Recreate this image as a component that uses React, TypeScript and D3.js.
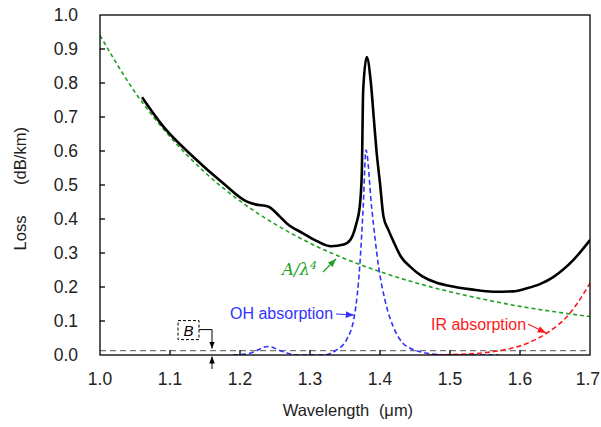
import React from "react";
import * as d3 from "d3";

const xTicks = [1.0, 1.1, 1.2, 1.3, 1.4, 1.5, 1.6, 1.7];
const yTicks = [0.0, 0.1, 0.2, 0.3, 0.4, 0.5, 0.6, 0.7, 0.8, 0.9, 1.0];

const totalWl = [1.06, 1.09, 1.133, 1.176, 1.21, 1.222, 1.24, 1.257, 1.267, 1.29, 1.31, 1.33, 1.348, 1.358, 1.366, 1.371, 1.374, 1.376, 1.381, 1.387, 1.391, 1.395, 1.4, 1.405, 1.412, 1.419, 1.43, 1.443, 1.46, 1.48, 1.5, 1.53, 1.562, 1.59, 1.61, 1.63, 1.648, 1.676, 1.7];
const totalLoss = [0.758, 0.673, 0.583, 0.505, 0.451, 0.443, 0.437, 0.407, 0.387, 0.358, 0.335, 0.32, 0.325, 0.34, 0.385, 0.436, 0.534, 0.78, 0.876, 0.8, 0.7, 0.6, 0.505, 0.407, 0.368, 0.335, 0.289, 0.26, 0.232, 0.213, 0.203, 0.193, 0.186, 0.187, 0.196, 0.21, 0.23, 0.279, 0.338];

const rayWl = [1.0, 1.05, 1.1, 1.15, 1.2, 1.25, 1.3, 1.35, 1.4, 1.45, 1.5, 1.55, 1.6, 1.65, 1.7];
const rayLoss = [0.94, 0.773, 0.642, 0.537, 0.453, 0.385, 0.329, 0.283, 0.245, 0.213, 0.186, 0.163, 0.143, 0.127, 0.113];

const ohWl = [1.19, 1.214, 1.24, 1.261, 1.28, 1.32, 1.338, 1.352, 1.364, 1.371, 1.376, 1.38, 1.388, 1.398, 1.407, 1.419, 1.433, 1.443, 1.46, 1.48, 1.5, 1.57];
const ohLoss = [0, 0.005, 0.025, 0.01, 0, 0, 0.015, 0.044, 0.122, 0.26, 0.436, 0.603, 0.436, 0.26, 0.162, 0.083, 0.034, 0.02, 0.008, 0.002, 0, 0];

const irWl = [1.47, 1.514, 1.562, 1.61, 1.638, 1.671, 1.7];
const irLoss = [0, 0.002, 0.01, 0.034, 0.064, 0.122, 0.211];

const bLevel = 0.013;
const bArrowWl = 1.16;

const W = 601, H = 427;
const M = { left: 100, right: 11, top: 15, bottom: 72 };

export default function App() {
  const x = d3.scaleLinear().domain([1.0, 1.7]).range([M.left, W - M.right]);
  const y = d3.scaleLinear().domain([0, 1.0]).range([H - M.bottom, M.top]);
  const pts = (xs: number[], ys: number[]) => xs.map((v, i) => [v, ys[i]] as [number, number]);
  const line = d3.line<[number, number]>().x(d => x(d[0])).y(d => y(d[1])).curve(d3.curveMonotoneX);
  const font = "'Liberation Sans', Arial, sans-serif";
  const x0 = x.range()[0], x1 = x.range()[1], y0 = y.range()[0], y1 = y.range()[1];
  const bx = x(bArrowWl);
  const by = y(bLevel);
  const lastTick = xTicks[xTicks.length - 1];

  return (
    <svg width={W} height={H} style={{ position: "absolute", left: 0, top: 0, background: "#fff" }} fontFamily={font}>
      <defs>
        <marker id="ahBlack" viewBox="0 0 10 10" refX="10" refY="5" markerWidth="7" markerHeight="7" orient="auto">
          <path d="M0,1 L10,5 L0,9 Z" fill="#000" />
        </marker>
        <marker id="ahBlue" viewBox="0 0 10 10" refX="10" refY="5" markerWidth="7" markerHeight="7" orient="auto">
          <path d="M0,1 L10,5 L0,9 Z" fill="#3333ff" />
        </marker>
        <marker id="ahRed" viewBox="0 0 10 10" refX="10" refY="5" markerWidth="7" markerHeight="7" orient="auto">
          <path d="M0,1 L10,5 L0,9 Z" fill="#ff1a1a" />
        </marker>
        <marker id="ahGreen" viewBox="0 0 10 10" refX="10" refY="5" markerWidth="7" markerHeight="7" orient="auto">
          <path d="M0,1 L10,5 L0,9 Z" fill="#22a022" />
        </marker>
        <clipPath id="plotClip">
          <rect x={x0} y={y1} width={x1 - x0} height={y0 - y1} />
        </clipPath>
      </defs>

      {/* B level line */}
      <line x1={x0} x2={x1} y1={by} y2={by} stroke="#777" strokeWidth={1.2} strokeDasharray="6,4" />

      <g clipPath="url(#plotClip)">
        <path d={line(pts(rayWl, rayLoss)) || ""} fill="none" stroke="#22a022" strokeWidth={1.6} strokeDasharray="4,3" />
        <path d={line(pts(ohWl, ohLoss)) || ""} fill="none" stroke="#3333ff" strokeWidth={1.6} strokeDasharray="5,3" />
        <path d={line(pts(irWl, irLoss)) || ""} fill="none" stroke="#ff1a1a" strokeWidth={1.6} strokeDasharray="5,3" />
        <path d={line(pts(totalWl, totalLoss)) || ""} fill="none" stroke="#000" strokeWidth={2.6} strokeLinejoin="round" />
      </g>

      {/* frame */}
      <rect x={x0} y={y1} width={x1 - x0} height={y0 - y1} fill="none" stroke="#000" strokeWidth={1.3} />

      {/* ticks */}
      {xTicks.map(t => (
        <g key={"x" + t}>
          {t > 1.0 && t < 1.7 && <line x1={x(t)} x2={x(t)} y1={y0} y2={y0 - 5} stroke="#000" strokeWidth={1.3} />}
          <text x={t === lastTick ? W - 1 : x(t)} y={y0 + 29.5} fontSize={17.5} textAnchor={t === lastTick ? "end" : "middle"} fill="#222">{t.toFixed(1)}</text>
        </g>
      ))}
      {yTicks.map(t => (
        <g key={"y" + t}>
          {t > 0 && t < 1.0 && <line x1={x0} x2={x0 + 5} y1={y(t)} y2={y(t)} stroke="#000" strokeWidth={1.3} />}
          <text x={x0 - 22} y={y(t) + 6.3} fontSize={17.5} textAnchor="end" fill="#222">{t.toFixed(1)}</text>
        </g>
      ))}

      {/* axis titles */}
      <text x={326} y={y0 + 61} fontSize={16.5} textAnchor="middle" fill="#222">Wavelength</text>
      <text x={396} y={y0 + 61} fontSize={16.5} textAnchor="middle" fill="#222">(μm)</text>
      <text transform={`translate(26, 233) rotate(-90)`} fontSize={16.5} textAnchor="middle" fill="#222">Loss</text>
      <text transform={`translate(26, 156) rotate(-90)`} fontSize={16.5} textAnchor="middle" fill="#222">(dB/km)</text>

      {/* B annotation */}
      <rect x={bx - 34} y={by - 30} width={21} height={19} fill="#fff" stroke="#000" strokeWidth={1} strokeDasharray="3,2" />
      <text x={bx - 23.5} y={by - 15} fontSize={15} fontStyle="italic" textAnchor="middle" fill="#000">B</text>
      <path d={`M${bx - 13},${by - 21} L${bx},${by - 21} L${bx},${by - 2}`} fill="none" stroke="#000" strokeWidth={1} markerEnd="url(#ahBlack)" />
      <line x1={bx} x2={bx} y1={y0 + 14} y2={y0 + 1.5} stroke="#000" strokeWidth={1} markerEnd="url(#ahBlack)" />

      {/* A/λ4 label */}
      <text x={282} y={275} fontSize={16.5} fontStyle="italic" fill="#22a022" fontFamily="'DejaVu Serif', 'Liberation Serif', serif">
        A/λ<tspan dy={-6} fontSize={11}>4</tspan>
      </text>
      <line x1={323} y1={272} x2={336} y2={259} stroke="#22a022" strokeWidth={1.2} markerEnd="url(#ahGreen)" />

      {/* OH absorption label */}
      <text x={230} y={319} fontSize={16} fill="#3333ff">OH absorption</text>
      <line x1={336} y1={314} x2={354} y2={315} stroke="#3333ff" strokeWidth={1.2} markerEnd="url(#ahBlue)" />

      {/* IR absorption label */}
      <text x={431} y={330} fontSize={16} fill="#ff1a1a">IR absorption</text>
      <line x1={528} y1={324} x2={546} y2={333} stroke="#ff1a1a" strokeWidth={1.2} markerEnd="url(#ahRed)" />
    </svg>
  );
}
